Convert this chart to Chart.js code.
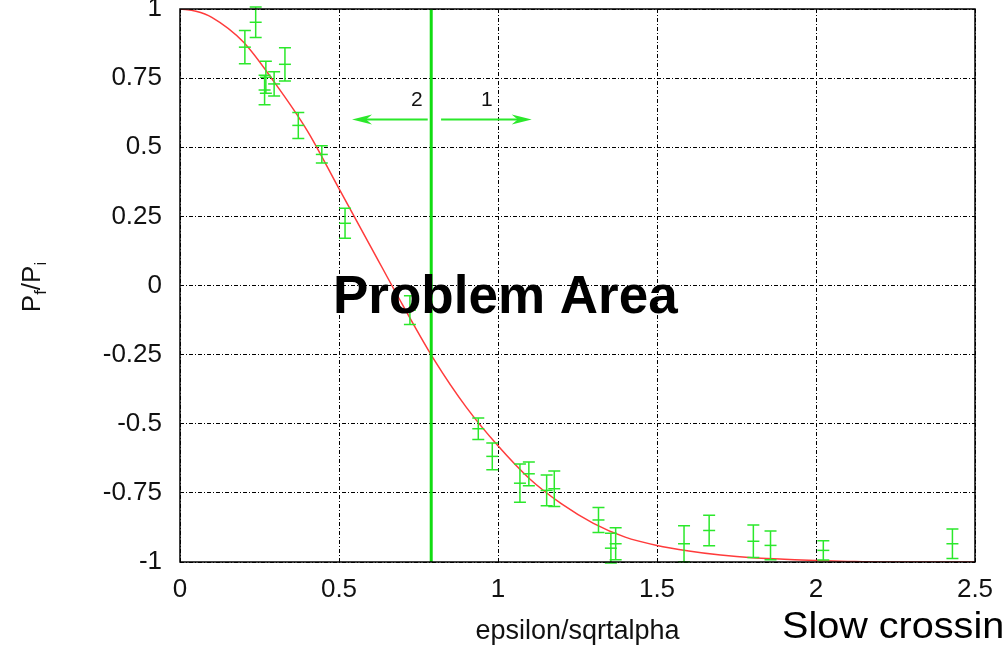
<!DOCTYPE html>
<html>
<head>
<meta charset="utf-8">
<script src="https://cdn.jsdelivr.net/npm/chart.js@4/dist/chart.umd.min.js"></script>
<style>
  html, body { margin: 0; padding: 0; background: #fff; }
  #wrap { width: 1003px; height: 648px; position: relative; }
</style>
</head>
<body>
<div id="wrap"><canvas id="grafico" width="1003" height="648"></canvas></div>
<script>
// measured points with error bars
const puntosX = [0.204, 0.238, 0.266, 0.270, 0.296, 0.330, 0.372, 0.446, 0.519, 0.723,
  0.938, 0.982, 1.069, 1.097, 1.153, 1.177, 1.316, 1.355, 1.370, 1.585,
  1.664, 1.803, 1.857, 2.023, 2.429];
const puntosY = [0.862, 0.952, 0.707, 0.753, 0.729, 0.800, 0.579, 0.474, 0.225, -0.089,
  -0.518, -0.618, -0.715, -0.681, -0.741, -0.735, -0.848, -0.950, -0.934, -0.934,
  -0.886, -0.925, -0.940, -0.958, -0.934];
const errores = [0.060, 0.055, 0.053, 0.058, 0.044, 0.060, 0.047, 0.031, 0.054, 0.052,
  0.039, 0.048, 0.069, 0.043, 0.056, 0.064, 0.045, 0.054, 0.058, 0.065,
  0.055, 0.059, 0.052, 0.035, 0.053];

// red curve
const curvaX = [0, 0.05, 0.1, 0.2, 0.3, 0.4, 0.5, 0.6, 0.7, 0.8, 0.9, 1.0, 1.1, 1.2,
  1.3, 1.4, 1.5, 1.6, 1.7, 1.8, 1.9, 2.0, 2.1, 2.2, 2.5];
const curvaY = [1, 0.992, 0.97, 0.88, 0.73, 0.56, 0.35, 0.14, -0.07, -0.27, -0.44, -0.58, -0.70, -0.79,
  -0.86, -0.91, -0.94, -0.96, -0.975, -0.985, -0.99, -0.995, -0.998, -1, -1];

// green separator and arrows
const lineaX = 0.79;
const flechas = [
  { desde: 0.779, hasta: 0.541, y: 0.6, etiqueta: '2', etiquetaX: 0.745 },
  { desde: 0.821, hasta: 1.106, y: 0.6, etiqueta: '1', etiquetaX: 0.965 }
];
const ticksX = [0, 0.5, 1, 1.5, 2, 2.5];
const ticksY = [-1, -0.75, -0.5, -0.25, 0, 0.25, 0.5, 0.75, 1];

const VERDE = '#2be82b';
const fuente = '"Liberation Sans", Arial, sans-serif';

const errorBars = {
  id: 'errorBars',
  afterDatasetsDraw(chart) {
    const { ctx, scales: { x, y } } = chart;
    ctx.save();
    ctx.strokeStyle = VERDE;
    ctx.lineWidth = 1.5;
    puntosX.forEach((px, i) => {
      const cx = x.getPixelForValue(px);
      const top = y.getPixelForValue(puntosY[i] + errores[i]);
      const bot = y.getPixelForValue(puntosY[i] - errores[i]);
      ctx.beginPath();
      ctx.moveTo(cx, top); ctx.lineTo(cx, bot);
      ctx.moveTo(cx - 6, top); ctx.lineTo(cx + 6, top);
      ctx.moveTo(cx - 6, bot); ctx.lineTo(cx + 6, bot);
      ctx.stroke();
    });
    // arrows
    ctx.lineWidth = 2;
    ctx.fillStyle = VERDE;
    flechas.forEach(f => {
      const x0 = x.getPixelForValue(f.desde);
      const x1 = x.getPixelForValue(f.hasta);
      const yy = y.getPixelForValue(f.y);
      const dir = Math.sign(x1 - x0);
      ctx.beginPath();
      ctx.moveTo(x0, yy); ctx.lineTo(x1 - dir * 10, yy);
      ctx.stroke();
      ctx.beginPath();
      ctx.moveTo(x1, yy);
      ctx.lineTo(x1 - dir * 20, yy - 5);
      ctx.lineTo(x1 - dir * 14, yy);
      ctx.lineTo(x1 - dir * 20, yy + 5);
      ctx.closePath();
      ctx.fill();
      ctx.fillStyle = '#111';
      ctx.font = '21px ' + fuente;
      ctx.textAlign = 'center';
      ctx.textBaseline = 'alphabetic';
      ctx.fillText(f.etiqueta, x.getPixelForValue(f.etiquetaX), yy - 14);
      ctx.fillStyle = VERDE;
    });
    ctx.restore();
  },
  afterDraw(chart) {
    const { ctx, chartArea: a } = chart;
    ctx.save();
    // frame
    ctx.strokeStyle = '#000';
    ctx.lineWidth = 1.5;
    ctx.strokeRect(a.left, a.top, a.right - a.left, a.bottom - a.top);

    ctx.fillStyle = '#000';
    ctx.textBaseline = 'alphabetic';
    ctx.textAlign = 'left';
    ctx.font = 'bold 53px ' + fuente;
    ctx.fillText('Problem Area', 333, 313);

    ctx.save();
    ctx.translate(782, 638);
    ctx.scale(1.07, 1);
    ctx.font = '37px ' + fuente;
    ctx.fillText('Slow crossing', 0, 0);
    ctx.restore();

    ctx.fillStyle = '#111';
    ctx.font = '27px ' + fuente;
    ctx.textAlign = 'center';
    ctx.fillText('epsilon/sqrtalpha', (a.left + a.right) / 2, 639);

    // y title P_f/P_i
    ctx.translate(40, 287);
    ctx.rotate(-Math.PI / 2);
    const partes = [['P', 26, 0], ['f', 17, 6], ['/P', 26, 0], ['i', 17, 6]];
    let ancho = 0;
    partes.forEach(p => { ctx.font = p[1] + 'px ' + fuente; ancho += ctx.measureText(p[0]).width; });
    let cx = -ancho / 2;
    ctx.textAlign = 'left';
    partes.forEach(p => {
      ctx.font = p[1] + 'px ' + fuente;
      ctx.fillText(p[0], cx, p[2]);
      cx += ctx.measureText(p[0]).width;
    });
    ctx.restore();
  }
};

const renderGrafico = () => {
  const canvas = document.getElementById('grafico');
  if (!canvas) return console.error('Canvas no encontrado');
  const ctx = canvas.getContext('2d');

  new Chart(ctx, {
    type: 'scatter',
    plugins: [errorBars],
    data: {
      datasets: [
        {
          type: 'line',
          data: curvaX.map((v, i) => ({ x: v, y: curvaY[i] })),
          borderColor: '#ff3b3b',
          borderWidth: 1.5,
          pointRadius: 0,
          cubicInterpolationMode: 'monotone',
          order: 3
        },
        {
          type: 'line',
          data: [{ x: lineaX, y: -1 }, { x: lineaX, y: 1 }],
          borderColor: '#11dd11',
          borderWidth: 3,
          pointRadius: 0,
          order: 2
        },
        {
          data: puntosX.map((v, i) => ({ x: v, y: puntosY[i] })),
          pointStyle: 'line',
          pointRadius: 6,
          borderColor: VERDE,
          backgroundColor: VERDE,
          borderWidth: 1.5,
          order: 1
        }
      ]
    },
    options: {
      animation: false,
      responsive: false,
      maintainAspectRatio: false,
      layout: { padding: { top: 9, right: 28, left: 0, bottom: 0 } },
      plugins: {
        legend: { display: false },
        tooltip: { enabled: false }
      },
      scales: {
        x: {
          type: 'linear',
          min: 0,
          max: 2.5,
          afterBuildTicks: s => { s.ticks = ticksX.map(v => ({ value: v })); },
          afterFit: s => { s.height = 86; s.paddingLeft = 0; s.paddingRight = 0; },
          ticks: {
            color: '#111',
            font: { family: fuente, size: 26 },
            padding: 12,
            maxRotation: 0,
            callback: v => String(v)
          },
          grid: { color: '#000', lineWidth: 1, drawTicks: false },
          border: { display: false, dash: [4, 2, 1, 2] }
        },
        y: {
          min: -1,
          max: 1,
          afterBuildTicks: s => { s.ticks = ticksY.map(v => ({ value: v })); },
          afterFit: s => { s.width = 180; s.paddingTop = 0; s.paddingBottom = 0; },
          ticks: {
            color: '#111',
            font: { family: fuente, size: 26 },
            padding: 18,
            callback: v => String(v)
          },
          grid: { color: '#000', lineWidth: 1, drawTicks: false },
          border: { display: false, dash: [4, 2, 1, 2] }
        }
      }
    }
  });
};

renderGrafico();
</script>
</body>
</html>
